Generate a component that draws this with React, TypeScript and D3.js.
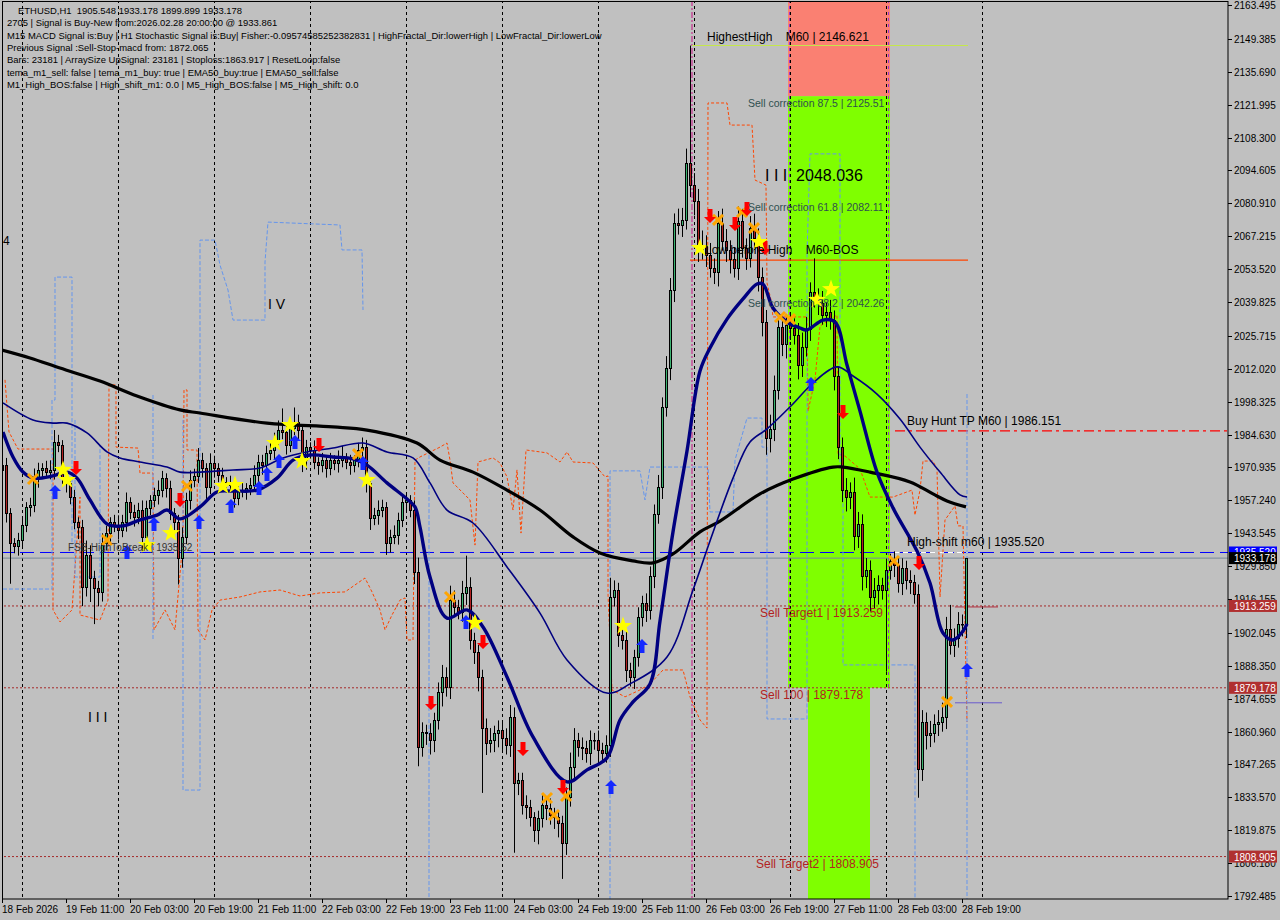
import React from "react";
import * as d3 from "d3";

// ---------- DATA ----------
const firstOpen = 1969.9;
const closes: number[] = [
  1971.9,1952.0,1939.5,1938.2,1940.7,1947.0,1954.5,1955.3,1966.5,1969.9,
  1970.7,1969.0,1969.9,1981.5,1980.3,1967.0,1964.5,1958.6,1948.2,1946.1,
  1921.2,1934.5,1924.9,1920.7,1919.1,1939.5,1943.6,1948.2,1947.0,1944.9,
  1948.2,1956.5,1952.4,1950.3,1953.2,1942.0,1954.1,1957.4,1959.5,1961.5,
  1966.5,1962.4,1952.0,1948.2,1933.2,1942.0,1957.4,1965.7,1967.4,1974.0,
  1970.7,1962.8,1972.8,1970.7,1967.8,1964.9,1963.6,1964.5,1958.2,1961.5,
  1961.5,1962.4,1963.6,1967.8,1973.2,1971.9,1977.0,1978.2,1982.4,1986.5,
  1985.7,1980.3,1987.4,1989.9,1986.5,1974.0,1979.4,1978.2,1973.2,1971.9,
  1974.0,1970.7,1974.0,1972.8,1974.0,1974.9,1973.2,1971.9,1974.0,1978.2,
  1979.4,1964.5,1949.9,1951.1,1953.2,1954.5,1939.5,1942.0,1942.8,1949.1,
  1956.5,1957.4,1953.2,1927.4,1854.5,1860.8,1860.4,1857.4,1865.8,1877.4,
  1883.7,1879.5,1915.7,1912.8,1910.7,1918.7,1921.2,1899.1,1894.1,1883.7,
  1862.4,1856.2,1857.4,1860.4,1861.6,1858.3,1855.4,1867.0,1839.5,1840.8,
  1830.4,1829.5,1825.4,1820.0,1825.0,1830.4,1829.1,1826.2,1825.4,1822.9,
  1814.6,1833.7,1846.2,1857.4,1854.5,1854.1,1852.0,1857.4,1857.4,1853.3,
  1852.0,1855.4,1917.0,1919.9,1901.2,1899.1,1886.6,1883.7,1892.0,1908.7,
  1914.5,1911.6,1925.7,1951.5,1962.8,1996.1,2012.3,2044.8,2072.7,2071.9,
  2074.0,2097.7,2088.5,2081.9,2061.5,2063.6,2059.4,2054.0,2052.3,2072.7,
  2065.2,2061.5,2057.7,2054.0,2073.6,2062.3,2058.2,2070.6,2066.5,2050.2,
  2031.5,1983.2,1986.9,2003.2,2029.4,2022.3,2030.3,2029.0,2026.1,2013.6,
  2021.1,2028.6,2044.0,2041.5,2039.4,2034.4,2035.7,2032.3,2009.0,1979.4,
  1961.5,1958.6,1960.7,1942.4,1947.4,1925.7,1928.2,1917.0,1919.9,1922.0,
  1919.9,1928.2,1932.0,1930.3,1922.8,1929.1,1924.1,1923.2,1918.2,1845.4,
  1864.9,1859.5,1860.4,1864.1,1864.9,1867.0,1903.7,1897.0,1899.9,1905.7,
  1905.548,1933.178,
];
const hiWick: number[] = [
  4,3,2,2,3,3,2,3,4,3, 2,3,4,5,3,2,3,2,3,2, 3,6,4,3,3,4,3,2,3,4, 3,4,2,3,3,4,3,2,3,4,
  3,2,3,2,3,4,3,4,3,5, 3,2,4,3,2,3,2,3,2,3, 3,2,3,4,3,3,3,4,3,4, 9,3,4,6,3,2,3,2,4,2,
  3,2,3,2,4,5,2,3,2,3, 4,3,2,3,4,3,2,3,4,3, 3,3,2,4,6,4,3,4,3,4, 5,4,6,4,3,5,13,4,3,3,
  3,4,5,3,4,3,4,5,4,3, 3,4,3,2,3,4,3,4,3,2, 3,4,6,5,3,4,3,4,3,4, 3,4,8,4,3,3,4,3,3,4,
  3,4,4,4,5,4,5,5,4,6, 5,6,48.9,5,5,6,4,5,4,5, 6,5,4,5,6,5,4,5,6,4, 4,5,6,6,4,5,4,5,4,5,
  6,5,4,14,4,5,4,5,4,4, 4,5,4,6,5,4,5,4,5,4, 3,4,3,4,3,4,3,4,3,4, 5,4,5,4,5,6,5,10,4,5,
  4,0,
];
const loWick: number[] = [
  3,4,17,3,4,3,3,4,3,4, 3,2,3,4,3,3,4,3,3,5, 8,4,10,15,6,4,3,4,3,4, 3,4,3,4,3,6,4,3,3,4,
  3,4,3,4,11,4,3,4,3,3, 4,5,3,4,3,4,3,2,4,3, 3,4,3,2,3,4,3,3,4,3, 3,4,3,3,4,5,4,3,3,4,
  3,4,3,3,4,3,3,4,3,3, 3,4,5,3,4,3,5,4,3,4, 3,4,3,5,8,4,5,6,5,4, 6,4,5,4,3,4,5,4,5,6,
  27,5,4,5,6,5,4,5,29,5, 4,5,4,5,6,4,5,4,5,6, 15,5,4,5,4,5,4,5,4,5, 4,4,5,4,5,4,5,4,5,4,
  4,5,4,5,4,5,4,5,5,4, 5,4,5,6,5,4,5,4,5,6, 4,5,6,4,5,4,5,4,5,6, 6,7,6,5,4,5,6,5,4,6,
  5,4,5,4,5,4,5,4,6,5, 5,6,5,6,5,6,5,6,5,6, 4,34,4,5,4,5,4,5,4,12, 5,6,5,4,5,4,5,4,5,4,
  5,5.649,
];

// moving averages sampled [bar, price]
const emaSlowPts: [number, number][] = [
  [0,2019.8],[7,2016.5],[14.5,2012.3],[24.5,2006.9],[33.75,2000.7],[44.5,1994.9],[49.5,1993.6],
  [66.25,1989.4],[82.75,1987.8],[91.25,1986.5],[103.75,1981.1],[109.5,1974.0],[117.75,1969.0],
  [126.25,1961.5],[134.5,1953.2],[142.75,1942.0],[149.5,1935.3],[157.75,1932.0],[162.75,1931.2],
  [167.75,1934.9],[174.5,1944.1],[179.5,1948.6],[189.5,1959.9],[197.75,1966.1],[207.75,1971.1],
  [210.25,1971.1],[217,1969.0],[227,1964.9],[232.75,1959.9],[236.25,1957.0],[241,1954.5],
];
const fastPts: [number, number][] = [
  [0.25,1985.7],[2.75,1975.3],[5.25,1969.0],[7.75,1966.5],[12.75,1967.4],[16.25,1969.0],[18.75,1966.5],
  [22,1957.4],[26.25,1947.4],[30.25,1946.6],[34.5,1949.1],[38.75,1951.1],[41.25,1953.2],[44.5,1949.5],
  [49.5,1954.5],[53.75,1960.7],[57.75,1961.1],[63.75,1961.5],[68.75,1966.5],[72.75,1974.0],[77,1976.1],
  [82.75,1975.3],[87.75,1974.5],[91.25,1971.9],[96.25,1964.5],[101.25,1957.8],[103.25,1954.5],
  [104.5,1946.1],[107,1925.3],[111.25,1908.2],[116.25,1911.6],[120.25,1904.5],[126.25,1883.7],
  [132.75,1858.7],[141.25,1840.0],[146.25,1845.0],[151.25,1850.0],[154.5,1865.8],[157.75,1873.3],
  [162,1880.8],[164.5,1907.0],[167.75,1944.1],[171.25,1977.8],[174.5,2011.1],[177,2020.7],
  [181.25,2032.7],[185.25,2041.1],[188.75,2047.3],[190.25,2047.3],[192.75,2037.3],[196.25,2031.5],
  [199.5,2029.0],[201.25,2028.2],[205.25,2032.3],[208.25,2031.5],[211.25,2013.6],[214.5,1994.4],
  [218.75,1969.0],[222.75,1954.1],[228.75,1936.1],[232,1922.8],[235.25,1902.0],[237.75,1899.1],
  [240.25,1902.8],[241.25,1905.8],
];
const midPts: [number, number][] = [
  [0.25,1997.8],[7.75,1990.7],[12.75,1989.4],[16.25,1989.4],[21.25,1985.3],[26.25,1977.4],[29.5,1974.9],
  [34.5,1973.2],[41.25,1971.1],[44.5,1969.0],[49.5,1969.0],[57.75,1969.9],[64.5,1970.7],[70.25,1974.9],
  [76.25,1977.4],[82.75,1979.0],[90.25,1981.1],[96.25,1977.4],[102.75,1974.9],[107,1964.5],
  [111.25,1953.2],[117.75,1947.8],[126.25,1929.5],[134.5,1910.3],[141.25,1890.8],[151.25,1877.0],
  [157,1880.8],[166.25,1892.0],[172.75,1919.9],[177,1940.3],[182.75,1966.5],[187,1981.5],
  [191.25,1987.0],[197.75,1997.4],[202.75,2006.1],[208.75,2012.8],[212.75,2009.0],[218.75,2001.5],
  [224.5,1991.1],[229.5,1979.4],[234.5,1969.0],[239.5,1959.5],[241.25,1958.6],
];

// dashed step channels [bar, price]
const orangeLeft: [number, number][] = [
  [0.75,2007.4],[1.75,1985.7],[4,1978.6],[12.75,1978.6],[12.75,1911.6],[14.5,1906.6],[17.5,1911.6],
  [19.5,1958.6],[19.5,1909.5],[24.5,1907.4],[26.5,1915.7],[26.75,2005.3],[28.5,2005.3],[28.5,1979.4],
  [34,1979.0],[34.5,1968.6],[37.75,1968.6],[38,1903.3],[40.75,1911.6],[43.25,1903.3],[45.25,1940.7],
  [45.5,2003.2],[46.25,2003.2],[46.25,1978.2],[48.75,1978.2],[49,1903.3],
];
const orangeMain: [number, number][] = [
  [49,1903.3],[50.75,1899.1],[52.5,1911.6],[54.5,1915.7],[59.5,1917.0],[64.5,1919.1],[69.5,1919.9],
  [74.5,1917.4],[79.5,1918.7],[85.75,1919.1],[90.75,1924.9],[92.5,1919.1],[94.5,1911.6],[95.75,1903.3],
  [97.5,1909.5],[99.5,1915.7],[100.75,1916.6],[101.25,1899.1],[102.75,1899.1],[103.25,1974.0],
  [104.5,1975.3],[109.5,1979.4],[111.25,1981.1],[112,1974.0],[112.75,1964.5],[117,1957.4],
  [118.25,1938.6],[119,1973.2],[122.75,1974.9],[124.5,1972.8],[126.25,1967.0],[127.75,1953.2],
  [128.75,1969.9],[129.75,1943.6],[131,1978.2],[136.25,1977.0],[139.5,1973.2],[141.25,1977.4],
  [142.75,1973.2],[147.75,1972.8],[150.75,1967.0],[151.5,1967.4],[151.5,1918.2],[152.5,1878.3],
  [155.75,1875.4],[159.5,1878.3],[162,1880.8],[165.25,1886.6],[170.25,1886.6],[172,1875.4],
  [174.5,1865.8],[176.25,1862.4],[176.5,2122.7],[181.25,2122.7],[182,2113.5],[187.5,2113.5],
  [188.25,2090.6],[191,2088.5],[191.25,2047.7],[192.25,2040.7],[192.75,2033.6],[201.25,2033.6],
  [201.5,1994.4],[203.25,2007.4],[204.5,2029.8],[208.75,2034.4],[209,1976.5],[210.75,1975.7],
  [214.5,1970.3],[217,1958.6],[222.75,1958.6],[227.5,1961.5],[228.25,1951.1],[229.5,1961.5],
  [230.25,1973.6],[232.75,1973.6],[233.75,1970.3],[234.5,1917.0],[235.75,1949.1],[238.25,1954.9],
  [239,1946.6],[240.25,1946.6],[241.25,1865.0],
];
const blueSteps: [number, number][][] = [
  [[0.25,1920.3],[12.5,1920.3],[12.5,1999.0],[13.25,1999.0],[13.25,2050.2],[17.5,2050.2],[17.5,1938.6]],
  [[18.25,1990.7],[18.25,1925.3],[24.5,1925.3],[24.5,1980.3]],
  [[37.75,2001.1],[37.75,1899.1]],
  [[45.25,1990.7],[45.25,1836.6],[49.5,1836.6],[49.5,2065.6],[53.25,2065.6],[54.5,2055.2],[56.5,2044.8],
   [57.75,2032.3],[65.75,2032.3],[65.75,2056.5],[66.5,2073.1],[84.5,2071.9],[85,2061.5],[90,2061.5],[90.25,2036.5]],
  [[106.75,1976.1],[106.75,1790.8]],
  [[152,1790.8],[152,1969.5],[159.5,1969.5],[160.75,1957.4],[162,1971.1],[176.5,1971.1],[177,1952.4],
   [182.75,1952.4],[183.25,1974.0],[186.25,1991.5],[190,1991.5],[190,1979.4],[191.25,1979.4],[191.25,1866.2],
   [201.25,1866.2],[201.25,2059.8],[202,2101.5],[209.5,2101.5],[209.5,1970.3],[210.25,1970.3],[210.25,1888.7],
   [228.25,1888.7],[228.25,1790.8]],
  [[241.25,2001.5],[241.25,1790.8]],
];

// signal markers [bar, price]
const stars: [number, number][] = [
  [15.25,1969.9],[16.25,1965.7],[36.25,1938.6],[42.25,1943.6],[55.25,1963.2],[58.25,1963.6],[68.25,1981.1],
  [72,1988.6],[75,1973.6],[91.25,1965.7],[118.25,1906.2],[155.25,1904.9],[174.5,2062.3],[189.25,2064.8],
  [203.75,2040.7],[207.25,2045.2],
];
const crosses: [number, number][] = [
  [7.75,1966.1],[26.25,1940.7],[46.25,1963.2],[89,1976.5],[112,1917.0],[136.25,1833.3],[138,1826.2],
  [141,1834.1],[179,2074.0],[185,2077.3],[188,2070.6],[194.5,2033.6],[197,2032.7],[223,1932.0],[236.25,1873.3],
];
const downArrows: [number, number][] = [
  [18.5,1970.7],[44.5,1957.4],[79.25,1980.3],[107.25,1872.8],[120.25,1898.3],[130.25,1853.7],[140.25,1837.9],
  [177,2075.6],[183.25,2072.3],[186.25,2078.5],[190.75,2062.3],[210.25,1994.0],[229.25,1931.1],
];
const upArrows: [number, number][] = [
  [13.25,1960.7],[31.25,1935.7],[38,1947.4],[49.25,1948.2],[57.25,1954.9],[64.25,1962.4],[66.25,1968.2],
  [69.25,1973.6],[73.25,1981.5],[90.25,1972.8],[116,1906.6],[152.25,1837.9],[160,1896.6],[202.25,2005.7],
  [241.25,1886.6],
];

const priceTicks = [2163.495,2149.385,2135.690,2121.995,2108.300,2094.605,2080.910,2067.215,2053.520,2039.825,
  2025.715,2012.020,1998.325,1984.630,1970.935,1957.240,1943.545,1929.850,1916.155,1902.045,1888.350,1874.655,
  1860.960,1847.265,1833.570,1819.875,1806.180,1792.485];
const timeLabels = ["18 Feb 2026","19 Feb 11:00","20 Feb 03:00","20 Feb 19:00","21 Feb 11:00","22 Feb 03:00",
  "22 Feb 19:00","23 Feb 11:00","24 Feb 03:00","24 Feb 19:00","25 Feb 11:00","26 Feb 03:00","26 Feb 19:00",
  "27 Feb 11:00","28 Feb 03:00","28 Feb 19:00"];
const headerLines = [
  "ETHUSD,H1  1905.548 1933.178 1899.899 1933.178",
  "2705 | Signal is Buy-New from:2026.02.28 20:00:00 @ 1933.861",
  "M15 MACD Signal is:Buy | H1 Stochastic Signal is:Buy| Fisher:-0.09574585252382831 | HighFractal_Dir:lowerHigh | LowFractal_Dir:lowerLow",
  "Previous Signal :Sell-Stop-macd from: 1872.065",
  "Bars: 23181 | ArraySize UpSignal: 23181 | Stoploss:1863.917 | ResetLoop:false",
  "tema_m1_sell: false | tema_m1_buy: true | EMA50_buy:true | EMA50_sell:false",
  "M1_High_BOS:false | High_shift_m1: 0.0 | M5_High_BOS:false | M5_High_shift: 0.0",
];

const highestHigh = 2146.621;
const sellCorrections = [{ pct: "87.5", price: 2125.51 }, { pct: "61.8", price: 2082.11 }, { pct: "38.2", price: 2042.26 }];
const lowBeforeHigh = 2057.3;
const waveValue = 2048.036;
const buyHuntTP = 1986.151;
const highShift = 1935.52;
const askPrice = 1933.178;
const sellTarget1 = 1913.259;
const sell100 = 1879.178;
const sellTarget2 = 1808.905;
const zoneOuter = [196.5, 222];
const zoneInner = [201.5, 217];

const FONT = "'Liberation Sans', Arial, sans-serif";
const PRE: React.CSSProperties = { whiteSpace: "pre" };

function starPath(cx: number, cy: number, R: number, r: number) {
  const pts: string[] = [];
  for (let k = 0; k < 10; k++) {
    const a = -Math.PI / 2 + (k * Math.PI) / 5;
    const rad = k % 2 ? r : R;
    pts.push(`${cx + rad * Math.cos(a)},${cy + rad * Math.sin(a)}`);
  }
  return "M" + pts.join("L") + "Z";
}
function arrowPath(cx: number, cy: number, up: boolean) {
  const s = up ? 1 : -1;
  const p = [[0, -7], [6, -1], [2.5, -1], [2.5, 7], [-2.5, 7], [-2.5, -1], [-6, -1]];
  return "M" + p.map(([dx, dy]) => `${cx + dx},${cy + s * dy}`).join("L") + "Z";
}

export default function App() {
  const x = d3.scaleLinear().domain([0, 241]).range([2, 966]);
  const y = d3.scaleLinear().domain([1792.485, 2163.495]).range([896, 5]);
  const right = 1228, bottom = 899;
  const opens = closes.map((c, i) => (i === 0 ? firstOpen : closes[i - 1]));
  const curve = d3.line<[number, number]>().x(d => x(d[0])).y(d => y(d[1])).curve(d3.curveCatmullRom.alpha(0.5));
  const step = d3.line<[number, number]>().x(d => x(d[0])).y(d => y(d[1]));
  const separators = d3.range(5, 246, 24);
  const tlBars = d3.range(0, 241, 16);

  const axisBoxes = [
    { p: highShift, bg: "#0000FF" },
    { p: askPrice, bg: "#000000" },
    { p: sellTarget1, bg: "#B03030" },
    { p: sell100, bg: "#B03030" },
    { p: sellTarget2, bg: "#B03030" },
  ];

  return (
    <svg width={1280} height={920} style={{ position: "absolute", left: 0, top: 0, background: "#C0C0C0" }} fontFamily={FONT}>
      <defs>
        <clipPath id="plot"><rect x={2} y={1} width={right - 2} height={bottom - 1} /></clipPath>
      </defs>
      <rect x={0} y={0} width={1280} height={920} fill="#C0C0C0" />
      <g clipPath="url(#plot)">
        {/* zone */}
        <rect x={x(zoneOuter[0])} y={0} width={x(zoneOuter[1]) - x(zoneOuter[0])} height={y(sellCorrections[0].price)} fill="#FA8072" />
        <rect x={x(zoneOuter[0])} y={y(sellCorrections[0].price)} width={x(zoneOuter[1]) - x(zoneOuter[0])} height={y(sell100) - y(sellCorrections[0].price)} fill="#7FFF00" />
        <rect x={x(zoneInner[0])} y={y(sell100)} width={x(zoneInner[1]) - x(zoneInner[0])} height={bottom - y(sell100)} fill="#7FFF00" />
        {/* separators */}
        {separators.map(s => (
          <line key={s} x1={x(s) + 0.5} x2={x(s) + 0.5} y1={0} y2={bottom} stroke="#000" strokeDasharray="3,3" />
        ))}
        {[zoneOuter[0], zoneOuter[1] - 0.75].map((b, k) => (
          <line key={k} x1={x(b) + 1.5} x2={x(b) + 1.5} y1={0} y2={y(sell100)} stroke="#9932CC" strokeDasharray="3,3" />
        ))}
        <line x1={x(172.5)} x2={x(172.5)} y1={0} y2={bottom} stroke="#C71585" strokeDasharray="6,2,2,2" />
        {/* horizontal levels */}
        <line x1={0} x2={right} y1={y(sellTarget1)} y2={y(sellTarget1)} stroke="#A52A2A" strokeDasharray="2,2" />
        <line x1={0} x2={right} y1={y(sell100)} y2={y(sell100)} stroke="#A52A2A" strokeDasharray="2,2" />
        <line x1={0} x2={right} y1={y(sellTarget2)} y2={y(sellTarget2)} stroke="#A52A2A" strokeDasharray="2,2" />
        <line x1={0} x2={right} y1={y(askPrice)} y2={y(askPrice)} stroke="#778899" />
        <line x1={0} x2={right} y1={y(highShift)} y2={y(highShift)} stroke="#0000FF" strokeDasharray="14,6" />
        <line x1={x(223)} x2={x(241.5)} y1={y(highShift)} y2={y(highShift)} stroke="#FFFFFF" strokeDasharray="5,4" />
        <line x1={x(223.25)} x2={right} y1={y(buyHuntTP)} y2={y(buyHuntTP)} stroke="#FF0000" strokeWidth={1.3} strokeDasharray="10,4,3,4" />
        <line x1={x(172.5)} x2={x(241.5)} y1={y(highestHigh)} y2={y(highestHigh)} stroke="#C5E84A" />
        <line x1={x(172)} x2={x(241.5)} y1={y(lowBeforeHigh)} y2={y(lowBeforeHigh)} stroke="#FF4500" strokeWidth={1.2} />
        <line x1={x(238.25)} x2={x(249)} y1={y(sellTarget1) + 1} y2={y(sellTarget1) + 1} stroke="#B03040" />
        <line x1={x(238.25)} x2={x(250)} y1={y(sell100) + 15} y2={y(sell100) + 15} stroke="#6A5ACD" />
        {/* dashed channels */}
        <path d={step(orangeLeft) || ""} fill="none" stroke="#FF4500" strokeDasharray="3,2" />
        <path d={step(orangeMain) || ""} fill="none" stroke="#FF4500" strokeDasharray="3,2" />
        {blueSteps.map((s, k) => (
          <path key={k} d={step(s) || ""} fill="none" stroke="#6495ED" strokeDasharray="4,2" />
        ))}
        {/* candles */}
        {closes.map((c, i) => {
          const o = opens[i];
          const top = Math.max(o, c), bot = Math.min(o, c);
          const cx = Math.round(x(i));
          const yt = Math.round(y(top)), yb = Math.round(y(bot));
          return (
            <g key={i}>
              <line x1={cx + 0.5} x2={cx + 0.5} y1={y(top + hiWick[i])} y2={y(bot - loWick[i])} stroke="#000" />
              <rect x={cx - 0.5} y={yt + 0.5} width={2} height={Math.max(yb - yt, 0.5)} fill={c >= o ? "#3CB371" : "#B22222"} stroke="#000" />
            </g>
          );
        })}
        {/* moving averages */}
        <path d={curve(emaSlowPts) || ""} fill="none" stroke="#000" strokeWidth={3.2} />
        <path d={curve(midPts) || ""} fill="none" stroke="#000080" strokeWidth={1.6} />
        <path d={curve(fastPts) || ""} fill="none" stroke="#000080" strokeWidth={3.4} />
        {/* markers */}
        {crosses.map(([b, p], k) => {
          const cx = x(b), cy = y(p);
          return (
            <g key={k} stroke="#FFA500" strokeWidth={3}>
              <line x1={cx - 5} y1={cy - 5} x2={cx + 5} y2={cy + 5} />
              <line x1={cx - 5} y1={cy + 5} x2={cx + 5} y2={cy - 5} />
            </g>
          );
        })}
        {downArrows.map(([b, p], k) => (
          <path key={k} d={arrowPath(x(b), y(p), false)} fill="#FF0000" />
        ))}
        {upArrows.map(([b, p], k) => (
          <path key={k} d={arrowPath(x(b), y(p), true)} fill="#1428FF" />
        ))}
        {stars.map(([b, p], k) => (
          <path key={k} d={starPath(x(b), y(p), 9.5, 3.8)} fill="#FFFF00" />
        ))}
        {/* labels on chart */}
        <text x={707} y={y(highestHigh) - 5} fontSize={12} fill="#000" style={PRE}>{`HighestHigh    M60 | ${highestHigh.toFixed(3)}`}</text>
        {sellCorrections.map(s => (
          <text key={s.pct} x={748} y={y(s.price) + 11} fontSize={10.5} fill="#2F4F4F">Sell correction {s.pct} | {s.price.toFixed(2)}</text>
        ))}
        <text x={765} y={181} fontSize={16} fill="#000" style={PRE}>{`I I I  ${waveValue.toFixed(3)}`}</text>
        <text x={705} y={y(lowBeforeHigh) - 6} fontSize={12} fill="#000" style={PRE}>{"Low before High    M60-BOS"}</text>
        <text x={907} y={y(buyHuntTP) - 6} fontSize={12} fill="#000">Buy Hunt TP M60 | {buyHuntTP.toFixed(3)}</text>
        <text x={907} y={y(highShift) - 6} fontSize={12} fill="#000">High-shift m60 | {highShift.toFixed(3)}</text>
        <text x={68} y={y(highShift) - 1} fontSize={10} fill="#333">FSB-HighToBreak | {highShift.toFixed(2)}</text>
        <text x={760} y={y(sellTarget1) + 11} fontSize={12} fill="#B22222">Sell Target1 | {sellTarget1.toFixed(3)}</text>
        <text x={760} y={y(sell100) + 11} fontSize={12} fill="#B22222">Sell 100 | {sell100.toFixed(3)}</text>
        <text x={756} y={y(sellTarget2) + 11} fontSize={12} fill="#B22222">Sell Target2 | {sellTarget2.toFixed(3)}</text>
        <text x={3} y={245} fontSize={12} fill="#000">4</text>
        <text x={268} y={309} fontSize={14} fill="#000">I V</text>
        <text x={88} y={722} fontSize={14} fill="#000">I I I</text>
        {headerLines.map((t, k) => (
          <text key={k} x={k === 0 ? 18 : 7} y={14 + k * 12.3} fontSize={9.45} fill="#000" style={PRE}>{t}</text>
        ))}
      </g>
      {/* frame & axes */}
      <rect x={2.5} y={1.5} width={right - 2.5} height={bottom - 1.5} fill="none" stroke="#000" />
      {priceTicks.map(p => (
        <g key={p}>
          <line x1={right} x2={right + 4} y1={Math.round(y(p)) + 0.5} y2={Math.round(y(p)) + 0.5} stroke="#000" />
          <text x={right + 6} y={y(p) + 4} fontSize={10} fill="#000">{p.toFixed(3)}</text>
        </g>
      ))}
      {axisBoxes.map(b => (
        <g key={b.p}>
          <rect x={right + 1} y={y(b.p) - 6} width={48} height={12} fill={b.bg} />
          <text x={right + 6} y={y(b.p) + 4} fontSize={10} fill="#FFF">{b.p.toFixed(3)}</text>
        </g>
      ))}
      {tlBars.map((b, k) => (
        <g key={b}>
          <line x1={x(b) + 0.5} x2={x(b) + 0.5} y1={bottom} y2={bottom + 4} stroke="#000" />
          <text x={x(b)} y={913} fontSize={10} fill="#000">{timeLabels[k]}</text>
        </g>
      ))}
    </svg>
  );
}
